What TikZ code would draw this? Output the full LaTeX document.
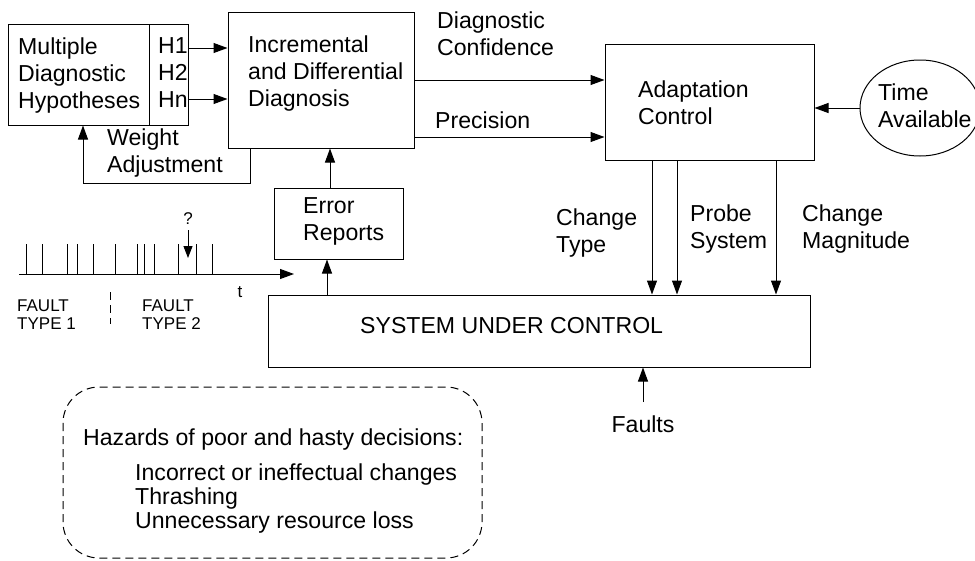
\documentclass[tikz,border=0pt]{standalone}
\usepackage{fontspec}
\setmainfont{Liberation Sans}
\usetikzlibrary{arrows.meta,shapes.geometric}
\begin{document}
\begin{tikzpicture}[x=1pt,y=-1pt,
  box/.style={draw,line width=1pt,inner sep=0pt,rectangle},
  lbl/.style={anchor=west,inner sep=0pt,align=left,font=\fontsize{23.1}{27}\selectfont},
  small/.style={anchor=west,inner sep=0pt,align=left,font=\fontsize{17}{18.5}\selectfont},
  conn/.style={line width=1pt},
  arr/.style={line width=1pt,-{Triangle[length=14pt,width=10pt]}}]
\useasboundingbox (0,0) rectangle (975,560);

% blocks
\node[box,minimum width=180pt,minimum height=101pt] (mdh) at (98,74.5) {};
\draw[conn] (149,24) -- (149,125);
\node[box,minimum width=186pt,minimum height=136pt] (idd) at (321,80) {};
\node[box,minimum width=209pt,minimum height=116pt] (ac) at (709.5,102) {};
\node[box,minimum width=129pt,minimum height=71pt] (er) at (338.5,223.5) {};
\node[box,minimum width=542pt,minimum height=72pt] (suc) at (539,331) {};
\node[draw,ellipse,line width=1pt,inner sep=0pt,minimum width=120pt,minimum height=96pt] (ta) at (920,108) {};
\draw[line width=1pt,dashed,dash pattern=on 8pt off 5pt,rounded corners=36pt] (63,387) rectangle (482,558);

% block texts
\node[lbl] (tmdh) at (18,75.5) {Multiple\\Diagnostic\\Hypotheses};
\node[lbl] (th) at (158,72.5) {H1\\H2\\Hn};
\node[lbl] (tidd) at (248,74) {Incremental\\and Differential\\Diagnosis};
\node[lbl] (tac) at (638,103) {Adaptation\\Control};
\node[lbl] (tta) at (878,105.5) {Time\\Available};
\node[lbl] (ter) at (303,221.5) {Error\\Reports};
\node[lbl] (tsuc) at (360,326) {SYSTEM UNDER CONTROL};

% connector labels
\node[lbl] (twa) at (107,153) {Weight\\Adjustment};
\node[lbl] (tdc) at (437,34) {Diagnostic\\Confidence};
\node[lbl] (tpr) at (435,120) {Precision};
\node[lbl] (tct) at (556,233) {Change\\Type};
\node[lbl] (tps) at (690,229.5) {Probe\\System};
\node[lbl] (tcm) at (802,229.5) {Change\\Magnitude};
\node[lbl,anchor=center] (tf) at (643,424) {Faults};
\node[lbl] (thz) at (83,440) {Hazards of poor and hasty decisions:};
\node[lbl,font=\fontsize{23.1}{24}\selectfont] (tli) at (135,499) {Incorrect or ineffectual changes\\Thrashing\\Unnecessary resource loss};

% fault time line
\node[small] (ft1) at (17,314.5) {FAULT\\TYPE 1};
\node[small] (ft2) at (142,314.5) {FAULT\\TYPE 2};
\node[small,anchor=center] (tt) at (240,292) {t};
\node[small,anchor=center] (tq) at (188,219) {?};
\coordinate (t0) at (19,274);
\coordinate (t1) at (294,274);
\draw[arr] (t0) -- (t1);
\foreach \x in {26,42,67,77,93,115,137,144,154,178,196,212}
  \draw[conn] (\x,244) -- (\x,274);
\coordinate (q1) at (188,230);
\coordinate (q2) at (188,258);
\draw[line width=1pt,-{Triangle[length=12pt,width=9pt]}] (q1) -- (q2);
\draw[line width=1pt,dash pattern=on 8pt off 5pt] (110,292) -- (110,324);

% helper positions for connectors
\coordinate (yh1) at (0,48);
\coordinate (yhn) at (0,99);
\coordinate (ydc) at (0,80);
\coordinate (ypr) at (0,137);
\coordinate (wa1) at (250,183);
\coordinate (wa2) at (83,183);
\coordinate (xer1) at (327,0);
\coordinate (xer2) at (330,0);
\coordinate (xct) at (652,0);
\coordinate (xps) at (677,0);
\coordinate (xcm) at (776,0);
\coordinate (fin) at (643,402);

% connectors
\draw[arr] (mdh.east |- yh1) -- (idd.west |- yh1);
\draw[arr] (mdh.east |- yhn) -- (idd.west |- yhn);
\draw[arr] (idd.south -| wa1) -- (wa1) -- (wa2) -- (mdh.south -| wa2);
\draw[arr] (idd.east |- ydc) -- (ac.west |- ydc);
\draw[arr] (idd.east |- ypr) -- (ac.west |- ypr);
\draw[arr] (ta.west) -- (ac.east |- ta.west);
\draw[arr] (er.north -| xer2) -- (idd.south -| xer2);
\draw[arr] (suc.north -| xer1) -- (er.south -| xer1);
\draw[arr] (ac.south -| xct) -- (suc.north -| xct);
\draw[arr] (ac.south -| xps) -- (suc.north -| xps);
\draw[arr] (ac.south -| xcm) -- (suc.north -| xcm);
\draw[arr] (fin) -- (suc.south -| fin);
\end{tikzpicture}
\end{document}
